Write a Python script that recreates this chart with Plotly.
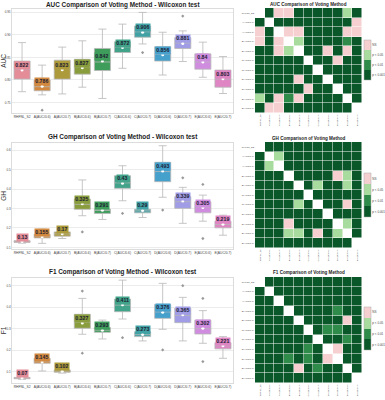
import plotly.graph_objects as go

CATS = ["RHFNL_S2", "A(AUC/0.6)", "A(AUC/0.7)", "B(AUC/0.6)", "B(AUC/0.7)", "C(AUC/0.6)",
        "C(AUC/0.7)", "D(AUC/0.6)", "D(AUC/0.7)", "E(AUC/0.6)", "E(AUC/0.7)"]
COLORS = ["#e58c99", "#d2893f", "#ac9a3b", "#8a9d3c", "#3f9d5c", "#40a38a",
          "#41a2a5", "#46a0cc", "#a09ce6", "#d08ddf", "#df85c4"]

# ---- AUC ----
AUC_Q1 = [0.802, 0.776, 0.802, 0.813, 0.821, 0.861, 0.895, 0.842, 0.870, 0.824, 0.784]
AUC_MED = [0.823, 0.785, 0.825, 0.829, 0.840, 0.873, 0.907, 0.857, 0.882, 0.840, 0.802]
AUC_Q3 = [0.842, 0.800, 0.844, 0.846, 0.870, 0.885, 0.920, 0.874, 0.894, 0.858, 0.822]
AUC_LO = [0.774, 0.767, 0.769, 0.784, 0.759, 0.826, 0.880, 0.811, 0.841, 0.806, 0.770]
AUC_HI = [0.883, 0.833, 0.873, 0.887, 0.913, 0.924, 0.950, 0.906, 0.909, 0.884, 0.852]
AUC_MEAN = [0.822, 0.786, 0.823, 0.827, 0.842, 0.872, 0.906, 0.856, 0.881, 0.840, 0.803]
AUC_OUT_X = [1, 6, 8]
AUC_OUT_Y = [0.733, 0.861, 0.942]
AUC_SIG = ["WDPPDDDDDLD",
           "DWDDDDDDDDP",
           "PDWPPDDDDPP",
           "PDPWLDDDDMD",
           "DDPLWDDPDPD",
           "DDDDDWDDPDD",
           "DDDDDDWDDDD",
           "DDDDPDDWDDD",
           "DDDDDPDDWDD",
           "LDPMPDDDDWD",
           "DPPDDDDDDDW"]

# ---- GH ----
GH_Q1 = [0.126, 0.149, 0.158, 0.296, 0.275, 0.404, 0.278, 0.438, 0.301, 0.278, 0.201]
GH_MED = [0.130, 0.156, 0.170, 0.322, 0.290, 0.432, 0.288, 0.490, 0.335, 0.305, 0.218]
GH_Q3 = [0.135, 0.168, 0.180, 0.349, 0.297, 0.469, 0.296, 0.538, 0.361, 0.335, 0.235]
GH_LO = [0.122, 0.121, 0.146, 0.263, 0.244, 0.340, 0.254, 0.358, 0.224, 0.235, 0.163]
GH_HI = [0.140, 0.194, 0.193, 0.447, 0.330, 0.520, 0.319, 0.623, 0.409, 0.369, 0.266]
GH_MEAN = [0.13, 0.155, 0.17, 0.325, 0.291, 0.43, 0.29, 0.493, 0.339, 0.305, 0.219]
GH_OUT_X = [3, 5, 7, 8, 9, 9]
GH_OUT_Y = [0.18, 0.275, 0.292, 0.458, 0.424, 0.146]
GH_SIG = ["WDDDDDDDDDD",
          "DWLDDDDDDDD",
          "DLWDDDDDDDD",
          "DDDWDDDDPLD",
          "DDDDWDLDDLD",
          "DDDDDWDDDDD",
          "DDDDLDWDDPD",
          "DDDDDDDWDDD",
          "DDDPDDDDWLD",
          "DDDLLDPDLWD",
          "DDDDDDDDDDW"]

# ---- F1 ----
F1_Q1 = [0.067, 0.139, 0.097, 0.302, 0.283, 0.379, 0.263, 0.348, 0.328, 0.275, 0.206]
F1_MED = [0.070, 0.146, 0.102, 0.330, 0.293, 0.410, 0.272, 0.378, 0.362, 0.300, 0.220]
F1_Q3 = [0.073, 0.162, 0.108, 0.367, 0.306, 0.438, 0.286, 0.413, 0.395, 0.340, 0.235]
F1_LO = [0.064, 0.103, 0.093, 0.274, 0.252, 0.345, 0.243, 0.297, 0.243, 0.232, 0.162]
F1_HI = [0.076, 0.181, 0.116, 0.441, 0.340, 0.526, 0.302, 0.511, 0.446, 0.384, 0.263]
F1_MEAN = [0.07, 0.145, 0.102, 0.327, 0.293, 0.411, 0.273, 0.376, 0.365, 0.302, 0.221]
F1_OUT_X = [3, 3, 5, 7, 8, 9, 9]
F1_OUT_Y = [0.475, 0.186, 0.258, 0.201, 0.50, 0.441, 0.147]
F1_SIG = ["WDDDDDDDDDD",
          "DWDDDDDDDDD",
          "DDWDDDDDDDD",
          "DDDWDDDDMDD",
          "DDDDWDDDDPD",
          "DDDDDWDMMDD",
          "DDDDDDWDDMD",
          "DDDDDMDWPDD",
          "DDDMDMDPWDD",
          "DDDDPDMDDWD",
          "DDDDDDDDDDW"]

SIG_CODE = {"D": 0, "M": 1, "L": 2, "P": 3, "W": None}
SIG_LABELS = ["p < 0.001", "p < 0.01", "p < 0.05", "NS"]
SIG_COLORS = ["#0a572a", "#2e8b4a", "#a8db9e", "#f6cfd0"]

W, H = 385, 400
FONT = "Liberation Sans, Arial, sans-serif"

panels = [
    dict(name="AUC", q1=AUC_Q1, med=AUC_MED, q3=AUC_Q3, lo=AUC_LO, hi=AUC_HI, mean=AUC_MEAN,
         ox=AUC_OUT_X, oy=AUC_OUT_Y, sig=AUC_SIG, yr=[0.7267, 0.9576],
         ticks=[0.75, 0.80, 0.85, 0.90, 0.95], fmt="%.2f",
         box_y=(9, 113), heat_y=(8, 113), cb_y=(40, 80), t_y=5, ht_y=5),
    dict(name="GH", q1=GH_Q1, med=GH_MED, q3=GH_Q3, lo=GH_LO, hi=GH_HI, mean=GH_MEAN,
         ox=GH_OUT_X, oy=GH_OUT_Y, sig=GH_SIG, yr=[0.092, 0.637],
         ticks=[0.1, 0.2, 0.3, 0.4, 0.5, 0.6], fmt="%.1f",
         box_y=(143, 249), heat_y=(142, 248), cb_y=(173, 217), t_y=137, ht_y=139),
    dict(name="F1", q1=F1_Q1, med=F1_MED, q3=F1_Q3, lo=F1_LO, hi=F1_HI, mean=F1_MEAN,
         ox=F1_OUT_X, oy=F1_OUT_Y, sig=F1_SIG, yr=[0.047, 0.536],
         ticks=[0.1, 0.2, 0.3, 0.4, 0.5], fmt="%.1f",
         box_y=(278, 383), heat_y=(277, 383), cb_y=(307, 350), t_y=272, ht_y=272),
]

BOX_X = (12, 233)
HEAT_X = (255, 362)

fig = go.Figure()
layout = dict(width=W, height=H, margin=dict(l=0, r=0, t=0, b=0, autoexpand=False),
              paper_bgcolor="white", plot_bgcolor="white", showlegend=False,
              font=dict(family=FONT, color="#333"))
annotations = []

def px_dom(a, b, total):
    return [a / total, b / total]

def py_dom(top, bottom):
    return [1 - bottom / H, 1 - top / H]

for i, p in enumerate(panels):
    bx = 2 * i + 1
    hx = 2 * i + 2
    bxs = "" if bx == 1 else str(bx)
    hxs = str(hx)
    # box plots
    for j, c in enumerate(CATS):
        fig.add_trace(go.Box(
            x=[c], q1=[p["q1"][j]], median=[p["med"][j]], q3=[p["q3"][j]],
            lowerfence=[p["lo"][j]], upperfence=[p["hi"][j]],
            fillcolor=COLORS[j], line=dict(color="#b8b8b8", width=0.8),
            width=0.8, whiskerwidth=0.5, boxpoints=False,
            xaxis="x" + bxs, yaxis="y" + bxs))
    fig.add_trace(go.Scatter(
        x=[CATS[k] for k in p["ox"]], y=p["oy"], mode="markers",
        marker=dict(color="#999999", size=2.5, symbol="diamond"),
        xaxis="x" + bxs, yaxis="y" + bxs))
    fig.add_trace(go.Scatter(
        x=CATS, y=p["mean"], mode="markers",
        marker=dict(color="white", size=3),
        xaxis="x" + bxs, yaxis="y" + bxs))
    for j, c in enumerate(CATS):
        annotations.append(dict(
            x=c, y=p["mean"][j], xref="x" + bxs, yref="y" + bxs,
            text="<b>%s</b>" % format(p["mean"][j], "g"), showarrow=False,
            yanchor="bottom", bgcolor=COLORS[j], borderpad=0.3,
            font=dict(size=5.2, color="#1c1c30", family=FONT)))
    layout["xaxis" + bxs] = dict(
        domain=px_dom(*BOX_X, W), anchor="y" + bxs, type="category",
        range=[-0.5, 10.5], tickfont=dict(size=3.3, color="#444"),
        showline=True, mirror=True, linecolor="#dcdcdc", linewidth=0.7,
        showgrid=False, ticks="", tickangle=0)
    layout["yaxis" + bxs] = dict(
        domain=py_dom(*p["box_y"]), anchor="x" + bxs, range=p["yr"],
        tickvals=p["ticks"], ticktext=[p["fmt"] % t for t in p["ticks"]],
        tickfont=dict(size=3, color="#444"),
        showline=True, mirror=True, linecolor="#dcdcdc", linewidth=0.7,
        showgrid=True, gridcolor="#ececec", gridwidth=0.6, zeroline=False,
        title=dict(text=p["name"], font=dict(size=6.5, color="#333"), standoff=2))
    annotations.append(dict(
        x=(BOX_X[0] + BOX_X[1]) / 2 / W, y=1 - p["t_y"] / H, xref="paper", yref="paper",
        text="<b>%s Comparison of Voting Method - Wilcoxon test</b>" % p["name"],
        showarrow=False, yanchor="middle", xanchor="center",
        font=dict(size=6.4, color="#222", family=FONT)))

    # heatmap
    z = [[SIG_CODE[ch] for ch in row] for row in p["sig"]]
    cy0, cy1 = p["cb_y"]
    colorscale = [[0, SIG_COLORS[0]], [0.25, SIG_COLORS[0]],
                  [0.25, SIG_COLORS[1]], [0.5, SIG_COLORS[1]],
                  [0.5, SIG_COLORS[2]], [0.75, SIG_COLORS[2]],
                  [0.75, SIG_COLORS[3]], [1, SIG_COLORS[3]]]
    fig.add_trace(go.Heatmap(
        z=z, x=CATS, y=CATS, zmin=-0.5, zmax=3.5, colorscale=colorscale,
        xgap=0.5, ygap=0.5, hoverongaps=False,
        xaxis="x" + hxs, yaxis="y" + hxs,
        colorbar=dict(
            x=364 / W, xanchor="left", y=1 - (cy0 + cy1) / 2 / H, yanchor="middle",
            len=(cy1 - cy0) / H, lenmode="fraction", thickness=7, thicknessmode="pixels",
            tickvals=[0, 1, 2, 3], ticktext=SIG_LABELS, ticks="",
            tickfont=dict(size=3, color="#444"), outlinewidth=0.5, outlinecolor="#aaa",
            xpad=0, ypad=0)))
    layout["xaxis" + hxs] = dict(
        domain=px_dom(*HEAT_X, W), anchor="y" + hxs, type="category",
        tickfont=dict(size=2.3, color="#444"), tickangle=-90, showgrid=False,
        ticks="", showline=False, zeroline=False)
    layout["yaxis" + hxs] = dict(
        domain=py_dom(*p["heat_y"]), anchor="x" + hxs, type="category",
        autorange="reversed", tickfont=dict(size=2.4, color="#444"), showgrid=False,
        ticks="", showline=False, zeroline=False)
    annotations.append(dict(
        x=(HEAT_X[0] + HEAT_X[1]) / 2 / W, y=1 - p["ht_y"] / H, xref="paper", yref="paper",
        text="<b>%s Comparison of Voting Method</b>" % p["name"],
        showarrow=False, yanchor="middle", xanchor="center",
        font=dict(size=4.6, color="#222", family=FONT)))

layout["annotations"] = annotations
fig.update_layout(**layout)
fig.write_html("out.html",
               config={"displayModeBar": False},
               post_script="document.body.style.margin='0';document.body.style.overflow='hidden';")
